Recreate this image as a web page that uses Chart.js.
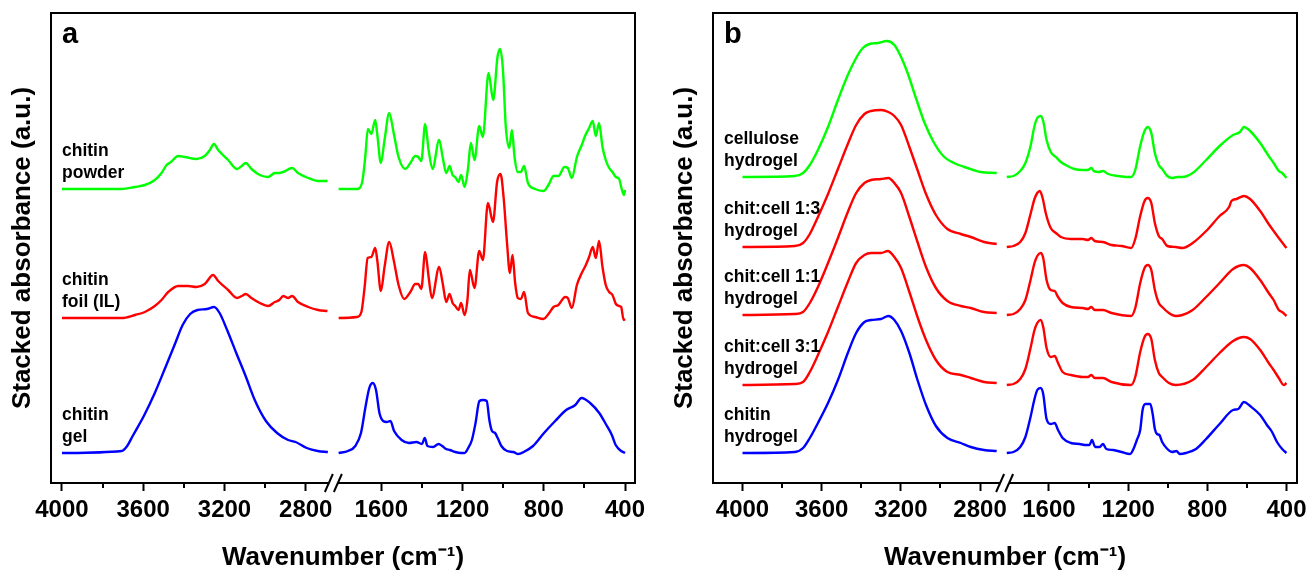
<!DOCTYPE html>
<html>
<head>
<meta charset="utf-8">
<script src="https://cdn.jsdelivr.net/npm/chart.js@4.4.0/dist/chart.umd.min.js"></script>
<style>
  html, body { margin: 0; padding: 0; background: #fff; }
  #wrap { position: relative; width: 1307px; height: 570px; overflow: hidden; }
  canvas { position: absolute; top: 0; }
</style>
</head>
<body>
<div id="wrap">
  <canvas id="panelA" width="653" height="570" style="left:0px"></canvas>
  <canvas id="panelB" width="654" height="570" style="left:653px"></canvas>
</div>
<script>
// tick labels of the broken wavenumber axis
const tickLabels = ['4000', '3600', '3200', '2800', '1600', '1200', '800', '400'];
const majorTicks = [4000, 3600, 3200, 2800, 1600, 1200, 800, 400];
const minorTicks = [3800, 3400, 3000, 1400, 1000, 600];
// the axis is cut between these two wavenumbers
const breakHigh = 2700;
const breakLow = 1800;

// ---- panel a : [wavenumber, absorbance above own baseline]
const powderSpectrum = [
  [4000,0],[3706,0],[3641,2],[3592,4],[3543,9],[3510,16],[3485,24],[3464,27],[3428,33],[3395,32],
  [3338,30],[3297,33],[3272,39],[3252,45],[3231,39],[3182,29],[3138,20],[3115,23],[3095,26],[3067,20],
  [3026,14],[2985,12],[2952,16],[2930,16],[2911,17],[2867,21],[2838,16],[2788,11],[2739,8],[2693,8],
  [1810,0],[1720,0],[1695,6],[1679,32],[1666,60],[1649,55],[1630,69],[1620,55],[1602,26],[1584,49],
  [1561,76],[1539,56],[1515,32],[1482,20],[1457,26],[1433,33],[1418,32],[1403,28],[1384,65],[1367,39],
  [1348,20],[1315,49],[1298,32],[1280,16],[1264,23],[1249,14],[1236,12],[1220,7],[1207,14],[1190,2],
  [1174,19],[1159,46],[1141,29],[1118,63],[1100,52],[1072,116],[1049,89],[1028,132],[1015,140],[1001,119],
  [987,62],[970,41],[957,59],[944,32],[929,17],[913,17],[897,23],[878,6],[843,0],[802,-2],
  [777,4],[752,13],[728,13],[698,22],[682,21],[662,11],[637,32],[613,44],[597,53],[577,61],
  [559,68],[544,53],[528,66],[511,42],[495,29],[478,21],[462,17],[445,12],[429,10],[419,2],[406,-6],[400,-1]
];
const foilSpectrum = [
  [4000,0],[3706,0],[3641,3],[3592,6],[3543,12],[3510,18],[3477,26],[3428,32],[3379,32],[3338,31],
  [3297,34],[3256,43],[3231,37],[3182,28],[3138,20],[3115,22],[3095,24],[3067,20],[3026,15],[2985,12],
  [2952,16],[2930,18],[2911,22],[2887,20],[2867,22],[2838,16],[2788,11],[2739,8],[2693,7],
  [1810,0],[1720,1],[1698,6],[1682,31],[1667,60],[1649,61],[1630,70],[1620,58],[1602,27],[1584,51],
  [1561,76],[1539,58],[1515,33],[1487,19],[1457,26],[1433,34],[1418,34],[1403,29],[1384,66],[1367,41],
  [1351,20],[1315,51],[1298,35],[1280,16],[1264,24],[1249,15],[1236,12],[1220,8],[1207,15],[1190,3],
  [1176,18],[1164,48],[1141,30],[1118,67],[1100,58],[1075,115],[1050,96],[1030,136],[1013,144],[998,121],
  [981,75],[967,45],[954,63],[941,35],[928,20],[913,19],[897,26],[878,5],[843,1],[802,-1],
  [777,4],[752,11],[728,13],[695,21],[682,20],[662,10],[637,33],[613,45],[593,53],[577,61],
  [559,71],[544,60],[528,77],[511,51],[495,33],[478,26],[462,23],[445,14],[429,12],[419,11],[407,-2],[400,-1]
];
const gelSpectrum = [
  [4000,0],[3706,2],[3679,7],[3652,17],[3597,37],[3543,60],[3488,87],[3442,110],[3406,128],[3369,139],
  [3333,143],[3287,144],[3251,146],[3224,140],[3187,123],[3142,100],[3096,77],[3051,53],[2996,32],[2941,20],
  [2887,13],[2850,11],[2795,5],[2741,2],[2691,1],
  [1810,0],[1764,2],[1728,7],[1700,20],[1677,47],[1659,65],[1642,70],[1626,63],[1609,40],[1591,32],
  [1573,31],[1555,32],[1537,22],[1500,13],[1464,10],[1427,11],[1400,9],[1386,15],[1373,7],[1345,6],
  [1318,9],[1300,7],[1281,4],[1263,3],[1236,1],[1208,0],[1190,0],[1172,5],[1154,13],[1136,30],
  [1117,52],[1099,53],[1081,52],[1068,33],[1055,22],[1040,20],[1027,15],[1009,7],[981,2],[950,1],
  [926,-1],[899,1],[853,7],[799,20],[744,32],[690,43],[645,48],[614,55],[572,50],[527,40],
  [492,28],[465,18],[446,8],[419,2],[400,0]
];
const panelALabels = [['chitin', 'powder'], ['chitin', 'foil (IL)'], ['chitin', 'gel']];
const panelAOffsets = [294, 165, 30];
const panelAColors = ['#00ff00', '#ff0000', '#0000ff'];

// ---- panel b
const celluloseSpectrum = [
  [4000,0],[3736,1],[3694,4],[3660,12],[3619,27],[3568,50],[3518,77],[3468,102],[3426,119],[3392,129],
  [3359,133],[3317,134],[3270,136],[3233,132],[3199,120],[3166,104],[3124,79],[3082,55],[3032,34],[2981,20],
  [2931,14],[2864,9],[2797,5],[2716,4],
  [1813,0],[1779,1],[1745,6],[1719,14],[1693,31],[1673,51],[1659,59],[1642,61],[1629,56],[1612,37],
  [1591,25],[1565,20],[1540,15],[1506,11],[1472,8],[1429,7],[1403,7],[1386,9],[1373,6],[1349,5],
  [1327,6],[1301,3],[1250,1],[1199,0],[1185,0],[1164,7],[1139,31],[1117,46],[1100,50],[1083,44],
  [1065,24],[1045,12],[1028,8],[1002,1],[977,-1],[951,0],[926,0],[874,4],[806,17],[738,31],
  [670,42],[635,45],[615,50],[584,46],[533,34],[490,21],[465,14],[439,6],[422,4],[400,-1]
];
const chitCell13Spectrum = [
  [4000,0],[3736,1],[3694,4],[3660,13],[3619,30],[3568,53],[3518,78],[3468,103],[3426,122],[3384,133],
  [3351,136],[3300,137],[3263,135],[3233,131],[3199,122],[3157,100],[3116,77],[3073,53],[3023,32],[2965,18],
  [2897,13],[2847,10],[2780,5],[2716,3],
  [1813,0],[1779,1],[1745,5],[1719,14],[1693,33],[1673,48],[1659,54],[1646,56],[1632,49],[1615,33],
  [1591,19],[1565,14],[1540,10],[1489,8],[1429,8],[1403,7],[1386,9],[1369,6],[1327,5],[1284,2],
  [1233,1],[1185,-1],[1164,8],[1139,31],[1117,46],[1101,49],[1083,44],[1065,24],[1045,11],[1028,8],
  [1002,1],[960,0],[926,-1],[874,4],[806,16],[738,31],[690,40],[678,46],[653,48],[615,51],
  [584,48],[533,36],[490,23],[465,16],[439,9],[400,-1]
];
const chitCell11Spectrum = [
  [4000,0],[3736,1],[3694,3],[3660,12],[3619,28],[3568,52],[3518,77],[3468,103],[3426,122],[3384,132],
  [3351,135],[3300,136],[3263,137],[3233,132],[3199,122],[3157,98],[3116,73],[3073,48],[3023,27],[2965,14],
  [2897,9],[2847,7],[2780,3],[2716,2],
  [1813,0],[1779,1],[1745,6],[1719,15],[1693,35],[1673,52],[1659,59],[1642,62],[1629,57],[1612,35],
  [1591,25],[1571,24],[1554,18],[1531,12],[1489,8],[1429,7],[1403,6],[1386,8],[1369,5],[1327,5],
  [1284,2],[1185,-1],[1164,7],[1139,32],[1117,47],[1101,50],[1083,45],[1065,25],[1045,12],[1028,8],
  [994,2],[960,-1],[926,0],[874,5],[806,18],[738,32],[670,46],[615,50],[584,47],[533,35],
  [490,22],[465,15],[439,5],[422,3],[400,-1]
];
const chitCell31Spectrum = [
  [4000,0],[3736,1],[3694,3],[3660,13],[3619,30],[3568,53],[3518,78],[3468,103],[3426,122],[3384,130],
  [3351,132],[3300,132],[3266,134],[3233,128],[3199,117],[3157,93],[3116,68],[3073,45],[3023,25],[2965,13],
  [2897,10],[2847,7],[2780,3],[2716,2],
  [1813,0],[1779,1],[1745,6],[1719,16],[1693,37],[1673,55],[1659,62],[1642,65],[1629,58],[1612,37],
  [1591,28],[1571,29],[1554,22],[1531,13],[1489,10],[1429,8],[1403,8],[1386,10],[1369,7],[1327,7],
  [1284,3],[1185,0],[1164,8],[1139,33],[1117,48],[1101,51],[1083,46],[1065,25],[1045,12],[1028,8],
  [994,2],[960,0],[874,5],[806,18],[738,32],[670,44],[615,48],[584,46],[533,35],[490,22],
  [465,15],[439,7],[414,0],[400,2]
];
const chitinHydrogelSpectrum = [
  [4000,0],[3736,1],[3694,5],[3660,15],[3619,30],[3568,50],[3518,73],[3468,100],[3426,120],[3384,131],
  [3351,133],[3300,134],[3263,137],[3233,133],[3199,122],[3157,100],[3116,73],[3073,48],[3023,27],[2965,15],
  [2897,10],[2847,6],[2780,3],[2716,2],
  [1813,0],[1779,1],[1745,6],[1719,16],[1693,36],[1673,54],[1659,63],[1642,65],[1629,59],[1612,34],
  [1591,29],[1571,30],[1554,23],[1531,15],[1489,10],[1446,9],[1412,8],[1395,8],[1383,13],[1366,6],
  [1344,6],[1327,9],[1310,4],[1275,3],[1233,1],[1190,-1],[1173,4],[1156,13],[1139,23],[1127,43],
  [1113,49],[1088,49],[1076,39],[1065,24],[1054,19],[1042,18],[1028,11],[1002,4],[977,1],[956,2],
  [939,-1],[908,0],[857,4],[806,14],[738,29],[670,43],[644,44],[615,51],[584,47],[533,38],
  [499,28],[473,21],[448,11],[422,4],[400,0]
];
const panelBLabels = [['cellulose', 'hydrogel'], ['chit:cell 1:3', 'hydrogel'], ['chit:cell 1:1', 'hydrogel'],
  ['chit:cell 3:1', 'hydrogel'], ['chitin', 'hydrogel']];
const panelBOffsets = [306, 236, 168, 98, 30];
const panelBColors = ['#00ff00', '#ff0000', '#ff0000', '#ff0000', '#0000ff'];

const FONT = 'Arial, "Liberation Sans", sans-serif';
Chart.defaults.color = '#000';
Chart.defaults.font.family = FONT;

// wavenumbers below the cut are slid left so the removed range takes no room
function toAxis(wn, shift) {
  return wn < 2200 ? wn + shift : wn;
}

function buildPoints(spectrum, offset, shift) {
  let pts = [];
  let prev = null;
  spectrum.forEach(([wn, a]) => {
    if (prev !== null && prev >= 2200 && wn < 2200) {
      // null point -> gap in the line at the axis break
      pts.push({x: (toAxis(prev, shift) + toAxis(wn, shift)) / 2, y: null});
    }
    pts.push({x: toAxis(wn, shift), y: a + offset});
    prev = wn;
  });
  return pts;
}

function decorPlugin(cfg) {
  return {
    id: 'decor',
    afterDatasetsDraw(chart) {
      const ctx = chart.ctx;
      const ca = chart.chartArea;
      const x = chart.scales.x;
      const y = chart.scales.y;
      ctx.save();
      ctx.strokeStyle = '#000';
      ctx.fillStyle = '#000';
      ctx.lineWidth = 2;
      ctx.lineCap = 'butt';
      ctx.lineJoin = 'miter';

      // frame, with the bottom line cut at the break
      const gapMid = x.getPixelForValue((toAxis(breakHigh, cfg.shift) + toAxis(breakLow, cfg.shift)) / 2);
      ctx.beginPath();
      ctx.moveTo(gapMid - 4.5, ca.bottom);
      ctx.lineTo(ca.left, ca.bottom);
      ctx.lineTo(ca.left, ca.top);
      ctx.lineTo(ca.right, ca.top);
      ctx.lineTo(ca.right, ca.bottom);
      ctx.lineTo(gapMid + 4.5, ca.bottom);
      ctx.stroke();
      // the two slashes
      [-4.5, 4.5].forEach(d => {
        ctx.beginPath();
        ctx.moveTo(gapMid + d - 4, ca.bottom + 9);
        ctx.lineTo(gapMid + d + 4, ca.bottom - 9);
        ctx.stroke();
      });
      // minor ticks
      minorTicks.forEach(w => {
        const px = Math.round(x.getPixelForValue(toAxis(w, cfg.shift)));
        ctx.beginPath();
        ctx.moveTo(px, ca.bottom);
        ctx.lineTo(px, ca.bottom + 5);
        ctx.stroke();
      });

      // panel letter
      ctx.font = 'bold 29px ' + FONT;
      ctx.textBaseline = 'alphabetic';
      ctx.textAlign = 'left';
      ctx.fillText(cfg.letter, ca.left + 11, ca.top + 30);

      // curve names, two lines above each baseline
      ctx.font = 'bold 17.5px ' + FONT;
      ctx.textBaseline = 'middle';
      cfg.labels.forEach((lines, i) => {
        const base = y.getPixelForValue(cfg.offsets[i]);
        ctx.fillText(lines[0], ca.left + 11, base - 38);
        ctx.fillText(lines[1], ca.left + 11, base - 16);
      });
      ctx.restore();
    }
  };
}

function drawPanel(canvasId, cfg) {
  const ctx = document.getElementById(canvasId).getContext('2d');
  const datasets = cfg.spectra.map((s, i) => ({
    data: buildPoints(s, cfg.offsets[i], cfg.shift),
    borderColor: cfg.colors[i],
    borderWidth: 2.4,
    pointRadius: 0,
    fill: false,
    spanGaps: false,
    cubicInterpolationMode: 'monotone'
  }));

  return new Chart(ctx, {
    type: 'line',
    data: {datasets: datasets},
    options: {
      responsive: false,
      animation: false,
      devicePixelRatio: 1,
      layout: {padding: {top: 13, right: cfg.rightPad, left: 0, bottom: 0}},
      plugins: {legend: {display: false}, tooltip: {enabled: false}},
      scales: {
        x: {
          type: 'linear',
          reverse: true,
          min: cfg.xMin,
          max: cfg.xMax,
          afterBuildTicks: (scale) => {
            scale.ticks = majorTicks.map(w => ({value: toAxis(w, cfg.shift)}));
          },
          afterFit: (scale) => {
            scale.height = 87;
            scale.paddingLeft = 0;
            scale.paddingRight = 0;
          },
          ticks: {
            callback: (v, i) => tickLabels[i],
            autoSkip: false,
            maxRotation: 0,
            minRotation: 0,
            padding: 5,
            color: '#000',
            font: {size: 24, weight: 'bold'}
          },
          grid: {drawOnChartArea: false, drawTicks: true, tickLength: 8, tickColor: '#000', tickWidth: 2},
          border: {display: false},
          title: {
            display: true,
            text: 'Wavenumber (cm⁻¹)',
            color: '#000',
            font: {size: 26, weight: 'bold'},
            padding: {top: 0, bottom: -3}
          }
        },
        y: {
          min: 0,
          max: 470,
          afterFit: (scale) => { scale.width = cfg.yWidth; },
          ticks: {display: false},
          grid: {display: false},
          border: {display: false},
          title: {
            display: true,
            text: 'Stacked absorbance (a.u.)',
            color: '#000',
            font: {size: 26, weight: 'bold'},
            padding: {top: cfg.yTitlePad, bottom: 0}
          }
        }
      }
    },
    plugins: [decorPlugin(cfg)]
  });
}

drawPanel('panelA', {
  letter: 'a',
  spectra: [powderSpectrum, foilSpectrum, gelSpectrum],
  offsets: panelAOffsets,
  colors: panelAColors,
  labels: panelALabels,
  shift: 828,
  xMin: 1179,
  xMax: 4054,
  yWidth: 51,
  rightPad: 18,
  yTitlePad: 7
});

drawPanel('panelB', {
  letter: 'b',
  spectra: [celluloseSpectrum, chitCell13Spectrum, chitCell11Spectrum, chitCell31Spectrum, chitinHydrogelSpectrum],
  offsets: panelBOffsets,
  colors: panelBColors,
  labels: panelBLabels,
  shift: 852,
  xMin: 1199,
  xMax: 4149,
  yWidth: 60,
  rightPad: 10,
  yTitlePad: 16
});
</script>
</body>
</html>
